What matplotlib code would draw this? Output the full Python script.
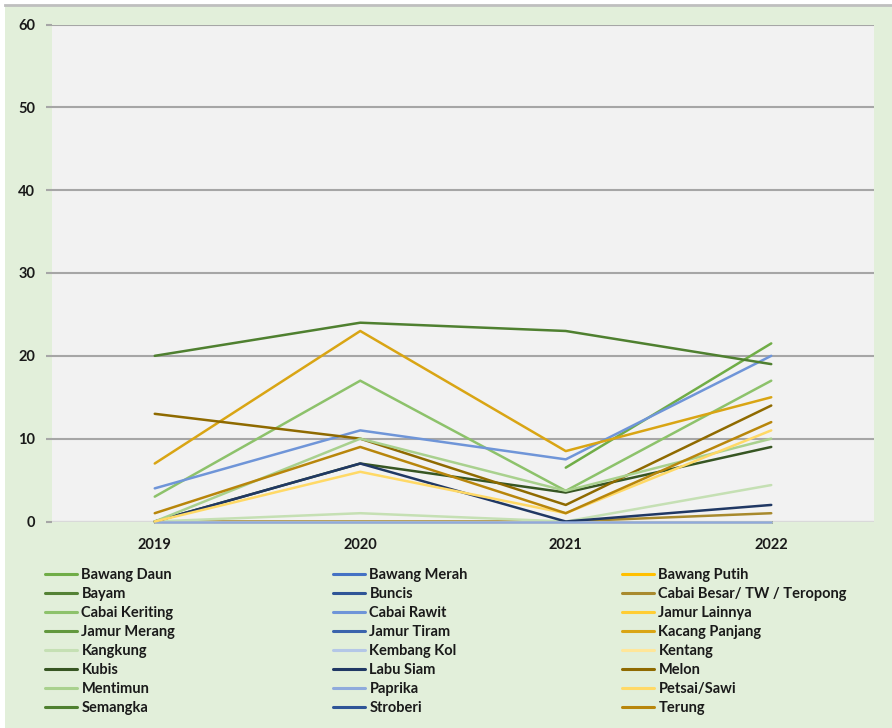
import numpy as np
import matplotlib
matplotlib.use("Agg")
import matplotlib.pyplot as plt
from matplotlib.lines import Line2D
from matplotlib.patches import Rectangle

plt.rcParams['font.family'] = ['Lato', 'DejaVu Sans']

years = ["2019", "2020", "2021", "2022"]
nan = np.nan

series_names = [
    "Bawang Daun", "Bawang Merah", "Bawang Putih",
    "Bayam", "Buncis", "Cabai Besar/ TW / Teropong",
    "Cabai Keriting", "Cabai Rawit", "Jamur Lainnya",
    "Jamur Merang", "Jamur Tiram", "Kacang Panjang",
    "Kangkung", "Kembang Kol", "Kentang",
    "Kubis", "Labu Siam", "Melon",
    "Mentimun", "Paprika", "Petsai/Sawi",
    "Semangka", "Stroberi", "Terung",
]

bawang_daun = [nan, nan, 6.5, 21.5]
bawang_merah = [0, 0, 0, 0]
bawang_putih = [0, 0, 0, 0]
bayam = [0, 0, 0, 0]
buncis = [0, 0, 0, 0]
cabai_besar = [0, 0, 0, 1]
cabai_keriting = [3, 17, 3.7, 17]
cabai_rawit = [4, 11, 7.5, 20]
jamur_lainnya = [0, 0, 0, 0]
jamur_merang = [0, 0, 0, 0]
jamur_tiram = [0, 0, 0, 0]
kacang_panjang = [7, 23, 8.5, 15]
kangkung = [0, 1, 0, 4.4]
kembang_kol = [0, 0, 0, 0]
kentang = [0, 0, 0, 0]
kubis = [0, 7, 3.5, 9]
labu_siam = [0, 7, 0, 2]
melon = [13, 10, 2, 14]
mentimun = [0, 10, 3.7, 10]
paprika = [0, 0, 0, 0]
petsai_sawi = [0, 6, 1, 11]
semangka = [20, 24, 23, 19]
stroberi = [nan, nan, nan, nan]
terung = [1, 9, 1, 12]

series_values = [
    bawang_daun, bawang_merah, bawang_putih,
    bayam, buncis, cabai_besar,
    cabai_keriting, cabai_rawit, jamur_lainnya,
    jamur_merang, jamur_tiram, kacang_panjang,
    kangkung, kembang_kol, kentang,
    kubis, labu_siam, melon,
    mentimun, paprika, petsai_sawi,
    semangka, stroberi, terung,
]

colors = [
    "#70AD47", "#4472C4", "#FFC000",
    "#548235", "#2F5597", "#A88A2E",
    "#8DC26B", "#6F95D8", "#FFCD33",
    "#62983E", "#3B64AC", "#D9A514",
    "#C5E0B4", "#B4C7E7", "#FFE699",
    "#375623", "#203864", "#8F6A00",
    "#A9D18E", "#8FAADC", "#FFD966",
    "#4F8030", "#2F5597", "#B8860B",
]

W, H = 892, 728
fig = plt.figure(figsize=(W / 100, H / 100), dpi=100)
fig.patch.set_facecolor("white")
# chart area background with gray top border
bg = Rectangle((5 / W, 0), 1 - 5 / W, 1 - 5 / H, transform=fig.transFigure,
               facecolor="#E2EFDA", edgecolor="none", zorder=-10)
fig.patches.append(bg)
fig.lines.append(Line2D([5 / W, 1], [1 - 5 / H, 1 - 5 / H], transform=fig.transFigure,
                        color="#BFBFBF", lw=2, zorder=-9))

ax = fig.add_axes([52 / W, 1 - 521.5 / H, (874 - 52) / W, (521.5 - 24.5) / H])
ax.set_facecolor("#F2F2F2")

x = np.arange(len(years)) + 0.5
handles = []
for name, vals, c in zip(series_names, series_values, colors):
    h, = ax.plot(x, vals, color=c, lw=1.8, label=name, solid_capstyle="round",
                 zorder=3, clip_on=False)
    handles.append(h)

ax.set_xlim(0, len(years))
ax.set_ylim(0, 60)
ax.set_yticks(range(0, 61, 10))
ax.set_xticks(x)
ax.set_xticklabels(years)
ax.yaxis.grid(True, color="#A6A6A6", lw=1.5, zorder=1)
ax.set_axisbelow(True)
for s in ax.spines.values():
    s.set_visible(False)
ax.axhline(0, color="#D9D9D9", lw=1.5, zorder=2)
ax.tick_params(axis="y", length=4, width=1.5, color="#A6A6A6", pad=8, labelsize=10.5)
ax.tick_params(axis="x", length=0, pad=12, labelsize=10.5)
for lab in ax.get_xticklabels() + ax.get_yticklabels():
    lab.set_fontweight("bold")
    lab.set_color("#1A1A1A")

# legend: three columns filled row-wise
col_x = [45, 333, 622]
for ci in range(3):
    hs = handles[ci::3]
    leg = fig.legend(handles=hs, labels=[h.get_label() for h in hs],
                     loc="upper left", bbox_to_anchor=(col_x[ci] / W, 1 - 568 / H),
                     frameon=False, fontsize=10.5, handlelength=2.2, handletextpad=0.3,
                     labelspacing=0.34, borderpad=0, borderaxespad=0)
    for t in leg.get_texts():
        t.set_fontweight("bold")
        t.set_color("#1A1A1A")
    for l in leg.get_lines():
        l.set_linewidth(2.2)

fig.savefig("out.png", dpi=100, facecolor=fig.get_facecolor())
